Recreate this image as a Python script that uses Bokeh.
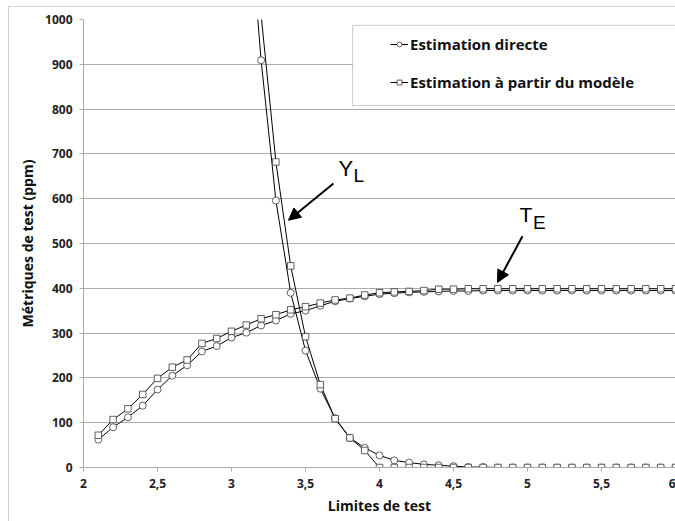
from bokeh.plotting import figure
from bokeh.models import (Range1d, FixedTicker, Legend, LegendItem, Arrow, NormalHead,
                          Label, BoxAnnotation, CustomJSTickFormatter)
from bokeh.embed import file_html
from bokeh.resources import INLINE

# ---- data ----
x_te = [2.1, 2.2, 2.3, 2.4, 2.5, 2.6, 2.7, 2.8, 2.9, 3.0,
        3.1, 3.2, 3.3, 3.4, 3.5, 3.6, 3.7, 3.8, 3.9, 4.0,
        4.1, 4.2, 4.3, 4.4, 4.5, 4.6, 4.7, 4.8, 4.9, 5.0,
        5.1, 5.2, 5.3, 5.4, 5.5, 5.6, 5.7, 5.8, 5.9, 6.0]
te_direct = [62, 90, 112, 138, 174, 205, 228, 259, 271, 290,
             301, 317, 328, 343, 350, 361, 371, 377, 382, 387,
             389, 391, 392, 393, 394, 394, 395, 395, 395, 395,
             395, 395, 395, 395, 395, 395, 395, 395, 395, 395]
te_model = [72, 107, 131, 163, 199, 224, 240, 277, 288, 304,
            318, 332, 341, 352, 359, 367, 374, 378, 385, 390,
            392, 393, 395, 398, 398, 399, 399, 399, 399, 399,
            399, 399, 399, 399, 399, 399, 399, 399, 399, 399]

x_yl = [3.1, 3.2, 3.3, 3.4, 3.5, 3.6, 3.7, 3.8, 3.9, 4.0,
        4.1, 4.2, 4.3, 4.4, 4.5, 4.6, 4.7, 4.8, 4.9, 5.0,
        5.1, 5.2, 5.3, 5.4, 5.5, 5.6, 5.7, 5.8, 5.9, 6.0]
yl_direct = [1320, 909, 596, 390, 261, 176, 110, 66, 44, 27,
             16, 11, 7, 5, 3, 1, 1, 0, 0, 0,
             0, 0, 0, 0, 0, 0, 0, 0, 0, 0]
yl_model = [1400, 1010, 682, 450, 292, 185, 109, 66, 38, 0,
            0, 0, 0, 0, 0, 0, 0, 0, 0, 0,
            0, 0, 0, 0, 0, 0, 0, 0, 0, 0]

x_ticks = [2, 2.5, 3, 3.5, 4, 4.5, 5, 5.5, 6]
y_ticks = [0, 100, 200, 300, 400, 500, 600, 700, 800, 900, 1000]
series_labels = ["Estimation directe", "Estimation à partir du modèle"]

FONT = "Open Sans"
GRID = "#ababab"
FRAME = "#d0d0d0"

p = figure(width=675, height=521, output_backend="svg", toolbar_location=None,
           x_range=Range1d(2, 6), y_range=Range1d(0, 1000),
           min_border_left=83, min_border_right=0, min_border_top=19, min_border_bottom=54)
p.border_fill_color = None
p.background_fill_color = "white"
p.styles = {"background": (f"linear-gradient({FRAME},{FRAME}) 8px 6px / 1px calc(100% - 6px) no-repeat, "
                           f"linear-gradient({FRAME},{FRAME}) 8px 6px / calc(100% - 8px) 1px no-repeat, white")}
p.outline_line_color = None
p.xgrid.grid_line_color = None
p.ygrid.grid_line_color = GRID
p.ygrid.grid_line_width = 1

p.xaxis.ticker = FixedTicker(ticks=x_ticks)
p.yaxis.ticker = FixedTicker(ticks=y_ticks)
p.xaxis.formatter = CustomJSTickFormatter(code="return tick.toString().replace('.', ',');")
for ax in (p.xaxis, p.yaxis):
    ax.axis_line_color = GRID
    ax.major_tick_line_color = GRID
    ax.major_tick_in = 0
    ax.major_tick_out = 4
    ax.minor_tick_line_color = None
    ax.major_label_text_font = FONT
    ax.major_label_text_font_style = "bold"
    ax.major_label_text_font_size = "12px"
    ax.major_label_text_color = "#222222"
    ax.major_label_standoff = 7
    ax.axis_label_text_font = FONT
    ax.axis_label_text_font_style = "bold"
    ax.axis_label_text_color = "#111111"
p.xaxis.axis_label = "Limites de test"
p.xaxis.axis_label_text_font_size = "14px"
p.xaxis.axis_label_standoff = 5
p.yaxis.axis_label = "Métriques de test (ppm)"
p.yaxis.axis_label_text_font_size = "14px"
p.yaxis.axis_label_standoff = 5

LC = "#000000"
MC = "#3a3a3a"
l_te_d = p.line(x_te, te_direct, line_color=LC, line_width=1)
l_te_m = p.line(x_te, te_model, line_color=LC, line_width=1)
l_yl_d = p.line(x_yl, yl_direct, line_color=LC, line_width=1)
l_yl_m = p.line(x_yl, yl_model, line_color=LC, line_width=1)
s_te_d = p.scatter(x_te, te_direct, marker="circle", size=7, line_color=MC, fill_color="white", line_width=0.8)
s_yl_d = p.scatter(x_yl, yl_direct, marker="circle", size=7, line_color=MC, fill_color="white", line_width=0.8)
s_te_m = p.scatter(x_te, te_model, marker="square", size=6.5, line_color=MC, fill_color="white", line_width=0.8)
s_yl_m = p.scatter(x_yl, yl_model, marker="square", size=6.5, line_color=MC, fill_color="white", line_width=0.8)

# legend frame
p.add_layout(BoxAnnotation(left=3.818, right=6.3, top=987, bottom=808,
                           fill_color="white", fill_alpha=1.0,
                           line_color="#555555", line_width=1, level="annotation"))

legend = Legend(items=[LegendItem(label=series_labels[0], renderers=[l_te_d, s_te_d]),
                       LegendItem(label=series_labels[1], renderers=[l_te_m, s_te_m])],
                location=(302, 370), orientation="vertical",
                padding=5, margin=0, spacing=18,
                glyph_width=18, glyph_height=12, label_standoff=2,
                border_line_alpha=0, background_fill_alpha=0,
                label_text_font=FONT, label_text_font_style="bold",
                label_text_font_size="15px", label_text_color="#111111")
p.add_layout(legend)

# annotations
p.add_layout(Arrow(x_start=3.689, y_start=634, x_end=3.385, y_end=552, line_width=2,
                   line_color="black",
                   end=NormalHead(size=12, fill_color="black", line_color="black")))
p.add_layout(Arrow(x_start=4.966, y_start=516, x_end=4.797, y_end=413, line_width=2,
                   line_color="black",
                   end=NormalHead(size=12, fill_color="black", line_color="black")))
ann_font = "Liberation Sans"
p.add_layout(Label(x=3.723, y=667, text="Y", text_font=ann_font, text_font_size="22px",
                   text_baseline="alphabetic", text_color="black"))
p.add_layout(Label(x=3.824, y=651, text="L", text_font=ann_font, text_font_size="19px",
                   text_baseline="alphabetic", text_color="black"))
p.add_layout(Label(x=4.946, y=565, text="T", text_font=ann_font, text_font_size="21px",
                   text_baseline="alphabetic", text_color="black"))
p.add_layout(Label(x=5.037, y=547, text="E", text_font=ann_font, text_font_size="19px",
                   text_baseline="alphabetic", text_color="black"))

open("out.html", "w").write(file_html(p, INLINE))
